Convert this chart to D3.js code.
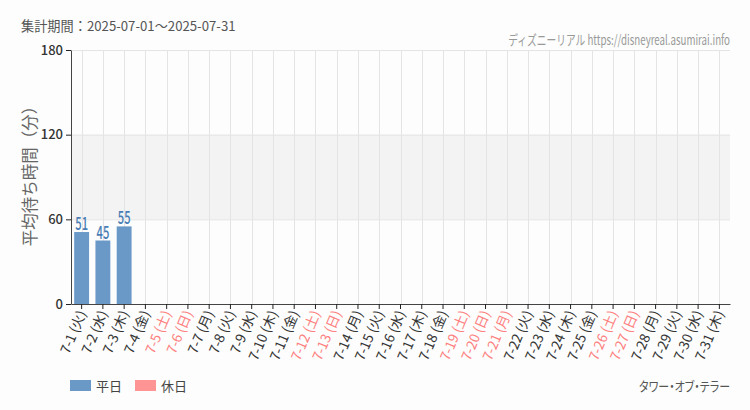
<!DOCTYPE html>
<html>
<head>
<meta charset="utf-8">
<script src="https://cdn.jsdelivr.net/npm/d3@7"></script>
<style>
  body { margin: 0; background: #fcfdfc; }
  text { font-family: "Noto Sans CJK JP", "Noto Sans", sans-serif; }
  .palt { font-feature-settings: "palt"; }
</style>
</head>
<body>
<div id="plot"></div>
<script>
// data
const days = ["7-1","7-2","7-3","7-4","7-5","7-6","7-7","7-8","7-9","7-10","7-11","7-12","7-13","7-14","7-15","7-16",
              "7-17","7-18","7-19","7-20","7-21","7-22","7-23","7-24","7-25","7-26","7-27","7-28","7-29","7-30","7-31"];
const weekdays = ["火","水","木","金","土","日","月","火","水","木","金","土","日","月","火","水",
                  "木","金","土","日","月","火","水","木","金","土","日","月","火","水","木"];
const holidays = ["7-5","7-6","7-12","7-13","7-19","7-20","7-21","7-26","7-27"];
const waits = [51, 45, 55, null, null, null, null, null, null, null, null, null, null, null, null, null,
               null, null, null, null, null, null, null, null, null, null, null, null, null, null, null];
const yTicks = [0, 60, 120, 180];

window.addEventListener("load", main);

// squeeze a right-anchored text horizontally so it is w pixels wide
function squeeze(sel, x, y, w){
  const n = sel.node().getComputedTextLength();
  sel.attr("transform", `translate(${x},${y}) scale(${Math.min(1, w / n)},1)`);
}

function main(){
  const width = 750, height = 410;
  const left = 71, right = 730, top = 50, bottom = 304;

  const svg = d3.select("#plot").append("svg")
    .attr("width", width)
    .attr("height", height);

  const x = d3.scaleBand()
    .domain(days)
    .range([left, right])
    .paddingInner(0.3)
    .paddingOuter(0.15);

  const y = d3.scaleLinear()
    .domain([0, 180])
    .range([bottom, top]);

  // shaded band 60-120
  svg.append("rect")
    .attr("x", left).attr("width", right - left)
    .attr("y", y(120)).attr("height", y(60) - y(120))
    .attr("fill", "#f3f3f3");

  // horizontal grid
  svg.append("g")
    .selectAll("line")
    .data([60, 120, 180])
    .join("line")
    .attr("x1", left).attr("x2", right)
    .attr("y1", d => y(d) + 0.5).attr("y2", d => y(d) + 0.5)
    .attr("stroke", "#e4e4e4");

  // vertical grid
  svg.append("g")
    .selectAll("line")
    .data(days)
    .join("line")
    .attr("x1", d => Math.round(x(d) + x.bandwidth()/2) + 0.5)
    .attr("x2", d => Math.round(x(d) + x.bandwidth()/2) + 0.5)
    .attr("y1", top).attr("y2", bottom)
    .attr("stroke", "#e4e4e4");

  // bars
  const data = days.map((d, i) => ({day: d, v: waits[i]})).filter(d => d.v != null);
  svg.append("g")
    .selectAll("rect")
    .data(data)
    .join("rect")
    .attr("x", d => x(d.day))
    .attr("width", x.bandwidth())
    .attr("y", d => y(d.v))
    .attr("height", d => y(0) - y(d.v))
    .attr("fill", "#6a99c8");

  // condensed value labels
  svg.append("g")
    .selectAll("text")
    .data(data)
    .join("text")
    .attr("transform", d => `translate(${x(d.day) + x.bandwidth()/2},${y(d.v) - 2}) scale(0.62,1)`)
    .attr("text-anchor", "middle")
    .attr("font-family", "Roboto, 'Noto Sans', sans-serif")
    .attr("font-size", 18)
    .attr("font-weight", 500)
    .attr("fill", "#4a7db5")
    .text(d => d.v);

  // y axis
  const yAxis = svg.append("g")
    .attr("transform", `translate(${left},0)`)
    .call(d3.axisLeft(y).tickValues(yTicks).tickSize(5).tickSizeOuter(0));
  yAxis.select(".domain").attr("stroke", "#444");
  yAxis.selectAll(".tick line").attr("stroke", "#222");
  yAxis.selectAll(".tick text")
    .attr("font-family", "Roboto, 'Noto Sans', sans-serif")
    .attr("font-size", 13).attr("font-weight", 500).attr("fill", "#333");

  // x axis
  const xAxis = svg.append("g")
    .attr("transform", `translate(0,${bottom})`)
    .call(d3.axisBottom(x).tickSize(5).tickSizeOuter(0).tickFormat(""));
  xAxis.select(".domain").attr("stroke", "#444");
  xAxis.selectAll(".tick line").attr("stroke", "#222");

  svg.append("g")
    .selectAll("text")
    .data(days)
    .join("text")
    .attr("transform", d => `translate(${x(d) + x.bandwidth()/2 + 5},${bottom + 9}) rotate(-67)`)
    .attr("text-anchor", "end")
    .attr("font-size", 13.5)
    .attr("fill", d => holidays.includes(d) ? "#ff8080" : "#333")
    .text((d, i) => `${d} (${weekdays[i]})`);

  // titles
  svg.append("text")
    .attr("x", 21).attr("y", 31)
    .attr("font-size", 13.2).attr("fill", "#555")
    .text("集計期間：2025-07-01～2025-07-31");

  const credit = svg.append("text")
    .attr("text-anchor", "end")
    .attr("font-size", 13.5).attr("fill", "#999")
    .text("ディズニーリアル https://disneyreal.asumirai.info");
  squeeze(credit, right, 45, 222);

  svg.append("text")
    .attr("transform", `translate(36,172) rotate(-90)`)
    .attr("text-anchor", "middle")
    .attr("font-size", 16.5).attr("fill", "#666")
    .text("平均待ち時間（分）");

  // legend
  const legend = [{name: "平日", color: "#6a99c8", x: 70}, {name: "休日", color: "#ff9494", x: 135}];
  const lg = svg.append("g").selectAll("g").data(legend).join("g")
    .attr("transform", d => `translate(${d.x},380)`);
  lg.append("rect").attr("width", 21).attr("height", 11).attr("fill", d => d.color);
  lg.append("text").attr("x", 26).attr("y", 10.5)
    .attr("font-size", 13).attr("fill", "#444")
    .text(d => d.name);

  const series = svg.append("text")
    .attr("class", "palt")
    .attr("text-anchor", "end")
    .attr("font-size", 13).attr("fill", "#555")
    .text("タワー・オブ・テラー");
  squeeze(series, right, 391, 91);
}
</script>
</body>
</html>
